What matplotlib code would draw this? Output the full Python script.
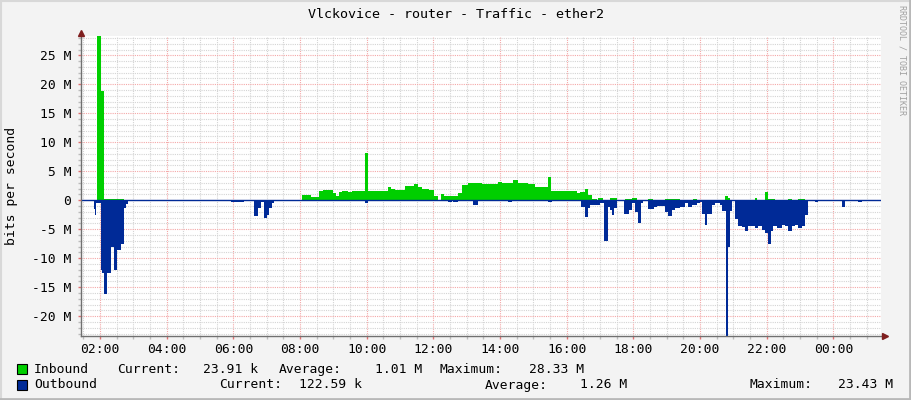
import numpy as np
import matplotlib
matplotlib.use("Agg")
import matplotlib.pyplot as plt
import matplotlib.transforms as mtransforms
from matplotlib.ticker import MultipleLocator, FixedLocator
from matplotlib.patches import Rectangle
from matplotlib.lines import Line2D

# time axis in hours (02:00 = 2.0, next day's 00:00 = 24.0)
t_start, t_end = 1.43, 25.43

# inbound traffic, Mbit/s, step values starting at each time
in_t = [1.43, 1.91, 2.03, 2.13, 2.73, 8.05, 8.33, 8.57, 8.70, 9.00, 9.07, 9.17,
        9.25, 9.45, 9.55, 9.95, 10.03, 10.65, 10.72, 10.85, 11.15, 11.42, 11.55,
        11.67, 11.87, 12.02, 12.15, 12.23, 12.32, 12.75, 12.85, 13.05, 13.25,
        13.45, 13.95, 14.05, 14.40, 14.55, 14.85, 15.05, 15.43, 15.52, 16.30,
        16.40, 16.55, 16.65, 16.75, 16.90, 16.95, 17.10, 17.30, 17.50, 17.75,
        17.95, 18.10, 18.45, 18.60, 18.95, 19.40, 19.80, 19.90, 20.75, 20.85,
        20.90, 21.65, 21.72, 21.95, 22.05, 22.25, 22.65, 22.75, 22.95, 23.15, 25.43]
in_v = [0.02, 28.33, 18.8, 0.25, 0.02, 0.86, 0.5, 1.55, 1.72, 1.2, 0.8, 1.4,
        1.55, 1.4, 1.6, 8.16, 1.6, 2.3, 1.9, 1.75, 2.5, 2.8, 2.2,
        1.95, 1.75, 0.75, 0.02, 1.1, 0.8, 1.3, 2.64, 2.9, 3.0,
        2.87, 3.1, 3.05, 3.45, 3.0, 2.76, 2.3, 4.02, 1.6, 1.2,
        1.5, 1.95, 0.9, 0.2, 0.02, 0.35, 0.02, 0.3, 0.02, 0.2,
        0.4, 0.02, 0.2, 0.02, 0.2, 0.1, 0.2, 0.02, 0.7, 0.4,
        0.02, 0.35, 0.02, 1.4, 0.2, 0.02, 0.25, 0.02, 0.25, 0.02, 0.02]

# outbound traffic, Mbit/s (drawn below zero)
out_t = [1.43, 1.81, 1.85, 1.89, 2.03, 2.06, 2.13, 2.21, 2.33, 2.43, 2.51, 2.63,
         2.71, 2.78, 2.83, 5.93, 6.33, 6.63, 6.73, 6.83, 6.93, 7.01, 7.08, 7.15,
         7.23, 9.95, 10.05, 12.45, 12.55, 12.60, 12.75, 13.20, 13.35, 14.25, 14.35,
         15.45, 15.55, 16.43, 16.55, 16.65, 16.70, 17.00, 17.13, 17.23, 17.30,
         17.35, 17.42, 17.50, 17.72, 17.88, 17.95, 18.05, 18.15, 18.22, 18.28,
         18.45, 18.63, 18.70, 18.95, 19.05, 19.15, 19.25, 19.40, 19.55, 19.65,
         19.75, 19.90, 20.00, 20.05, 20.15, 20.22, 20.35, 20.45, 20.60, 20.67,
         20.77, 20.85, 20.90, 20.95, 21.05, 21.15, 21.25, 21.35, 21.45, 21.55,
         21.65, 21.75, 21.85, 21.95, 22.05, 22.12, 22.20, 22.30, 22.45, 22.55,
         22.65, 22.75, 22.85, 22.95, 23.05, 23.15, 23.23, 23.45, 23.55, 23.65,
         23.75, 24.25, 24.35, 24.75, 24.85, 25.43]
out_v = [0.12, 1.5, 2.6, 0.5, 12.1, 12.6, 16.1, 12.6, 8.0, 12.1, 8.6, 7.5,
         1.4, 0.6, 0.12, 0.3, 0.12, 2.7, 1.4, 0.3, 3.0, 2.6, 1.4, 0.5,
         0.12, 0.4, 0.12, 0.3, 0.12, 0.3, 0.12, 0.75, 0.12, 0.25, 0.12,
         0.25, 0.12, 1.15, 2.9, 1.4, 0.75, 0.4, 7.0, 1.1, 1.7,
         2.5, 1.4, 0.2, 2.4, 1.7, 0.4, 2.0, 4.0, 0.4, 0.2,
         1.55, 1.1, 1.0, 2.0, 2.7, 1.7, 1.4, 1.15, 0.5, 1.2,
         0.8, 0.4, 0.35, 2.3, 4.3, 2.3, 0.8, 0.4, 0.8, 1.8,
         23.43, 8.0, 1.8, 0.2, 3.3, 4.5, 4.7, 5.4, 4.5, 4.4,
         4.8, 4.5, 5.2, 5.6, 7.6, 5.4, 4.5, 4.8, 4.3, 4.5,
         5.3, 4.4, 4.3, 4.8, 4.5, 2.5, 0.2, 0.3, 0.12, 0.2,
         0.12, 1.2, 0.12, 0.35, 0.12, 0.12]

x_ticks = [2, 4, 6, 8, 10, 12, 14, 16, 18, 20, 22, 24]
x_tick_labels = ["02:00", "04:00", "06:00", "08:00", "10:00", "12:00",
                 "14:00", "16:00", "18:00", "20:00", "22:00", "00:00"]
y_ticks = [-20, -15, -10, -5, 0, 5, 10, 15, 20, 25]
y_tick_labels = ["-20 M", "-15 M", "-10 M", "-5 M", "0", "5 M", "10 M", "15 M", "20 M", "25 M"]
y_min, y_max = -23.43, 28.33

title = "Vlckovice - router - Traffic - ether2"
series_names = ["Inbound", "Outbound"]
in_stats = ["23.91 k", "1.01 M", "28.33 M"]
out_stats = ["122.59 k", "1.26 M", "23.43 M"]

GREEN = "#00CF00"
BLUE = "#002A97"
MONO = "DejaVu Sans Mono"
FS = 9.4

W, H = 911, 400


def fx(px):
    return px / W


def fy(py):
    return 1 - py / H


fig = plt.figure(figsize=(W / 100, H / 100), dpi=100, facecolor="#F3F3F3")
ax = fig.add_axes([fx(81), fy(336), 800 / W, 300 / H])
ax.set_facecolor("white")

ax.fill_between(in_t, in_v, 0, step="post", color=GREEN, lw=0, zorder=2)
ax.fill_between(out_t, -np.array(out_v), 0, step="post", color=BLUE, lw=0, zorder=2)
ax.axhline(0, color=BLUE, lw=1, zorder=3)

ax.set_xlim(t_start, t_end)
ax.set_ylim(y_min, y_max)

ax.xaxis.set_major_locator(FixedLocator(x_ticks))
ax.set_xticklabels(x_tick_labels, fontfamily=MONO, fontsize=FS)
ax.xaxis.set_minor_locator(MultipleLocator(0.5))
ax.yaxis.set_major_locator(FixedLocator(y_ticks))
ax.set_yticklabels(y_tick_labels, fontfamily=MONO, fontsize=FS)
ax.yaxis.set_minor_locator(MultipleLocator(1))

ax.set_axisbelow(True)
ax.grid(which="major", color="#F4A8A8", linestyle=(0, (1, 1)), lw=0.8)
ax.grid(which="minor", color="#D4D4D4", linestyle=(0, (1, 1)), lw=0.8)
ax.tick_params(which="major", length=2, width=1, color="#E07070", pad=3)
ax.tick_params(which="minor", length=2, width=1, color="#BBBBBB")
ax.tick_params(axis="y", which="major", pad=5)

for s in ["top", "right"]:
    ax.spines[s].set_visible(False)
for s in ["left", "bottom"]:
    ax.spines[s].set_color("#707070")
    ax.spines[s].set_linewidth(1)
    ax.spines[s].set_zorder(4)

# axis arrows
up = mtransforms.offset_copy(ax.transAxes, fig=fig, x=0, y=3, units="dots")
right = mtransforms.offset_copy(ax.transAxes, fig=fig, x=4, y=0, units="dots")
ax.plot([0], [1], marker="^", ms=4.5, color="#7F1F1F", transform=up, clip_on=False, zorder=5)
ax.plot([1], [0], marker=">", ms=4.5, color="#7F1F1F", transform=right, clip_on=False, zorder=5)

fig.text(fx(456), fy(14), title, ha="center", va="center", family=MONO, fontsize=9.6)
fig.text(fx(12), fy(186), "bits per second", ha="center", va="center",
         rotation=90, family=MONO, fontsize=FS)
fig.text(fx(902), fy(60), "RRDTOOL / TOBI OETIKER", ha="center", va="center",
         rotation=270, family=MONO, fontsize=6, color="#A0A0A0")

# legend
rows = [(373, GREEN, series_names[0], in_stats,
         [116.7, 278.3, 440], [258.3, 422.7, 584]),
        (388.5, BLUE, series_names[1], out_stats,
         [219.3, 485, 749.3], [361.7, 627.7, 893.3])]
for base, col, name, stats, lab_x, val_x in rows:
    fig.add_artist(Rectangle((fx(17), fy(base + 1)), 10 / W, 10 / H,
                             transform=fig.transFigure, facecolor=col,
                             edgecolor="black", lw=0.8))
    fig.text(fx(34), fy(base), name, ha="left", va="baseline", family=MONO, fontsize=FS)
    for lab, lx, val, vx in zip(["Current:", "Average:", "Maximum:"], lab_x, stats, val_x):
        fig.text(fx(lx), fy(base), lab, ha="left", va="baseline", family=MONO, fontsize=FS)
        fig.text(fx(vx), fy(base), val, ha="right", va="baseline", family=MONO, fontsize=FS)

# frame around the image
fig.add_artist(Line2D([0, 1], [fy(0.5), fy(0.5)], transform=fig.transFigure, color="#D8D8D8", lw=1.5))
fig.add_artist(Line2D([fx(0.5), fx(0.5)], [0, 1], transform=fig.transFigure, color="#D8D8D8", lw=1.5))
fig.add_artist(Line2D([0, 1], [fy(399), fy(399)], transform=fig.transFigure, color="#B8B8B8", lw=2))
fig.add_artist(Line2D([fx(910), fx(910)], [0, 1], transform=fig.transFigure, color="#B8B8B8", lw=2))

fig.savefig("out.png", dpi=100, facecolor=fig.get_facecolor())
